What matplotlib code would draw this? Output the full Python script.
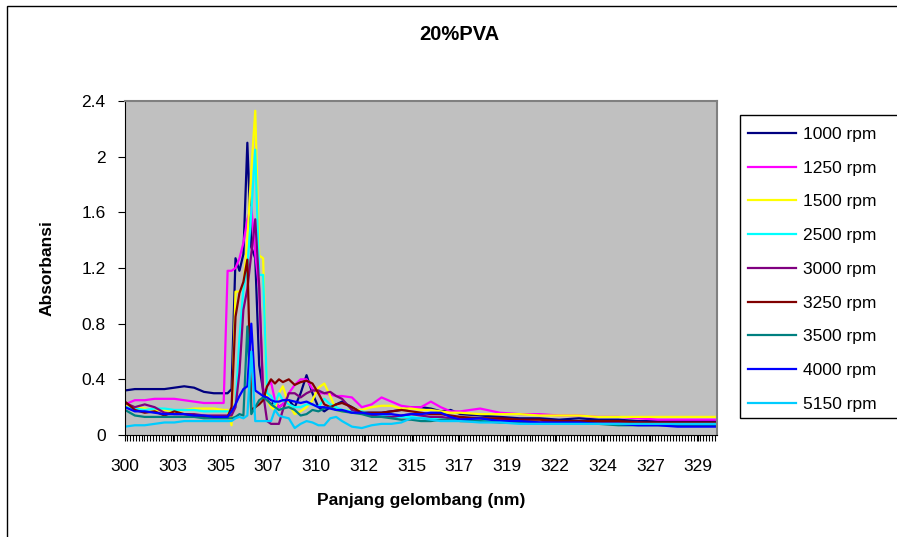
import matplotlib
matplotlib.use("Agg")
import matplotlib.pyplot as plt
from matplotlib.patches import Rectangle
from matplotlib.ticker import MultipleLocator

plt.rcParams['font.family'] = ['Liberation Sans', 'DejaVu Sans']

# Wavelength (nm) of the sampled points
wavelength = [300.0, 300.5, 301.0, 301.5, 302.0, 302.5, 303.0, 303.5, 304.0, 304.5, 305.0,
              305.2, 305.4, 305.6, 305.8, 306.0, 306.2, 306.4, 306.6, 306.8, 307.0,
              307.2, 307.4, 307.6, 307.8, 308.0, 308.3, 308.6, 308.9, 309.2, 309.5,
              309.8, 310.1, 310.4, 310.7, 311.0, 311.5, 312.0,
              312.5, 313.0, 313.5, 314.0, 314.5, 315.0, 315.5, 316.0, 316.5, 317.0,
              318.0, 319.0, 320.0, 321.0, 322.0, 323.0, 324.0, 325.0, 326.0, 327.0,
              328.0, 329.0, 330.0]

rpm_1000 = [0.32, 0.33, 0.33, 0.33, 0.33, 0.34, 0.35, 0.34, 0.31, 0.30, 0.30,
            0.30, 0.33, 1.27, 1.18, 1.30, 2.10, 1.35, 1.27, 0.50, 0.32,
            0.25, 0.22, 0.24, 0.20, 0.22, 0.25, 0.20, 0.30, 0.43, 0.30,
            0.20, 0.17, 0.20, 0.22, 0.24, 0.20, 0.16,
            0.16, 0.16, 0.17, 0.18, 0.20, 0.20, 0.19, 0.17, 0.18, 0.15,
            0.14, 0.13, 0.12, 0.12, 0.11, 0.12, 0.11, 0.11, 0.10, 0.10,
            0.10, 0.10, 0.10]
rpm_1250 = [0.22, 0.25, 0.25, 0.26, 0.26, 0.26, 0.25, 0.24, 0.23, 0.23, 0.23,
            1.18, 1.18, 1.20, 1.27, 1.38, 1.55, 1.64, 1.30, 1.05, 0.30,
            0.35, 0.38, 0.25, 0.20, 0.22, 0.30, 0.36, 0.40, 0.40, 0.33,
            0.30, 0.30, 0.29, 0.28, 0.28, 0.27, 0.20,
            0.22, 0.27, 0.24, 0.21, 0.20, 0.20, 0.24, 0.20, 0.17, 0.17,
            0.19, 0.16, 0.15, 0.15, 0.14, 0.14, 0.13, 0.13, 0.12, 0.11,
            0.11, 0.11, 0.11]
rpm_1500 = [0.22, 0.20, 0.19, 0.18, 0.18, 0.17, 0.18, 0.19, 0.19, 0.19, 0.18,
            0.18, 0.07, 1.03, 1.03, 1.07, 1.40, 1.90, 2.33, 1.29, 1.27,
            0.25, 0.20, 0.18, 0.30, 0.35, 0.22, 0.15, 0.17, 0.20, 0.25,
            0.34, 0.37, 0.28, 0.18, 0.17, 0.18, 0.18,
            0.20, 0.21, 0.21, 0.19, 0.19, 0.18, 0.18, 0.17, 0.16, 0.16,
            0.15, 0.15, 0.15, 0.14, 0.14, 0.14, 0.13, 0.13, 0.13, 0.13,
            0.13, 0.13, 0.13]
rpm_2500 = [0.20, 0.19, 0.18, 0.19, 0.19, 0.18, 0.18, 0.18, 0.17, 0.17, 0.17,
            0.17, 0.17, 0.20, 0.70, 1.05, 1.20, 1.60, 2.05, 1.15, 1.15,
            0.30, 0.28, 0.22, 0.30, 0.25, 0.22, 0.20, 0.20, 0.22, 0.22,
            0.20, 0.26, 0.22, 0.20, 0.18, 0.17, 0.17,
            0.15, 0.14, 0.13, 0.13, 0.13, 0.12, 0.12, 0.11, 0.11, 0.11,
            0.10, 0.10, 0.09, 0.09, 0.09, 0.08, 0.08, 0.08, 0.08, 0.08,
            0.08, 0.08, 0.08]
rpm_3000 = [0.23, 0.20, 0.22, 0.20, 0.16, 0.15, 0.15, 0.15, 0.14, 0.14, 0.14,
            0.14, 0.14, 0.20, 0.45, 0.90, 1.05, 1.30, 1.55, 1.07, 0.30,
            0.10, 0.08, 0.08, 0.08, 0.18, 0.30, 0.30, 0.27, 0.30, 0.32,
            0.32, 0.30, 0.31, 0.28, 0.26, 0.18, 0.16,
            0.14, 0.13, 0.13, 0.14, 0.15, 0.14, 0.13, 0.13, 0.12, 0.12,
            0.12, 0.11, 0.10, 0.09, 0.10, 0.09, 0.09, 0.09, 0.09, 0.08,
            0.08, 0.08, 0.08]
rpm_3250 = [0.24, 0.18, 0.16, 0.17, 0.14, 0.17, 0.15, 0.14, 0.13, 0.13, 0.13,
            0.13, 0.20, 0.85, 1.02, 1.10, 1.26, 0.18, 0.20, 0.22, 0.25,
            0.35, 0.40, 0.37, 0.40, 0.38, 0.40, 0.36, 0.38, 0.39, 0.37,
            0.30, 0.22, 0.20, 0.22, 0.23, 0.20, 0.16,
            0.16, 0.16, 0.17, 0.18, 0.17, 0.16, 0.15, 0.15, 0.14, 0.13,
            0.12, 0.12, 0.11, 0.11, 0.10, 0.10, 0.10, 0.10, 0.09, 0.09,
            0.09, 0.09, 0.09]
rpm_3500 = [0.18, 0.14, 0.13, 0.13, 0.13, 0.13, 0.13, 0.13, 0.12, 0.12, 0.12,
            0.12, 0.12, 0.13, 0.15, 0.14, 0.78, 0.15, 0.20, 0.25, 0.27,
            0.25, 0.22, 0.20, 0.18, 0.19, 0.20, 0.18, 0.14, 0.15, 0.18,
            0.17, 0.19, 0.20, 0.18, 0.17, 0.16, 0.15,
            0.13, 0.13, 0.12, 0.11, 0.11, 0.10, 0.10, 0.11, 0.11, 0.10,
            0.10, 0.09, 0.09, 0.08, 0.08, 0.08, 0.08, 0.07, 0.07, 0.07,
            0.07, 0.07, 0.07]
rpm_4000 = [0.20, 0.17, 0.17, 0.16, 0.15, 0.15, 0.15, 0.14, 0.14, 0.13, 0.13,
            0.13, 0.17, 0.22, 0.28, 0.33, 0.35, 0.80, 0.32, 0.30, 0.28,
            0.27, 0.25, 0.24, 0.24, 0.25, 0.25, 0.24, 0.23, 0.24, 0.22,
            0.20, 0.20, 0.19, 0.18, 0.18, 0.16, 0.16,
            0.15, 0.15, 0.15, 0.14, 0.15, 0.15, 0.16, 0.16, 0.13, 0.11,
            0.12, 0.10, 0.10, 0.09, 0.09, 0.09, 0.08, 0.08, 0.07, 0.07,
            0.06, 0.06, 0.06]
rpm_5150 = [0.06, 0.07, 0.07, 0.08, 0.09, 0.09, 0.10, 0.10, 0.10, 0.10, 0.10,
            0.10, 0.10, 0.12, 0.13, 0.12, 0.14, 0.60, 0.10, 0.10, 0.10,
            0.10, 0.10, 0.18, 0.14, 0.13, 0.12, 0.05, 0.08, 0.10, 0.09,
            0.07, 0.07, 0.12, 0.13, 0.10, 0.06, 0.05,
            0.07, 0.08, 0.08, 0.09, 0.12, 0.12, 0.11, 0.10, 0.10, 0.10,
            0.09, 0.09, 0.08, 0.08, 0.08, 0.08, 0.08, 0.08, 0.08, 0.08,
            0.08, 0.08, 0.08]

series = [
    ("1000 rpm", rpm_1000, "#000080"),
    ("1250 rpm", rpm_1250, "#FF00FF"),
    ("1500 rpm", rpm_1500, "#FFFF00"),
    ("2500 rpm", rpm_2500, "#00FFFF"),
    ("3000 rpm", rpm_3000, "#800080"),
    ("3250 rpm", rpm_3250, "#800000"),
    ("3500 rpm", rpm_3500, "#008080"),
    ("4000 rpm", rpm_4000, "#0000FF"),
    ("5150 rpm", rpm_5150, "#00CCFF"),
]

tick_labels = ['300', '303', '305', '307', '310', '312', '315',
               '317', '319', '322', '324', '327', '329']
y_ticks = [0, 0.4, 0.8, 1.2, 1.6, 2.0, 2.4]
y_tick_labels = ['0', '0.4', '0.8', '1.2', '1.6', '2', '2.4']

W, H = 897, 537
fig = plt.figure(figsize=(W / 100, H / 100), dpi=100)
ax = fig.add_axes([125 / W, 1 - 435 / H, 592 / W, 334 / H])
ax.set_facecolor('#C0C0C0')

for name, vals, col in series:
    ax.plot(wavelength, vals, color=col, lw=1.6, label=name)

ax.set_xlim(300, 330)
ax.set_ylim(0, 2.4)

step = 2.42
ax.set_xticks([300 + i * step for i in range(len(tick_labels))])
ax.set_xticklabels(tick_labels, fontsize=12.5)
ax.xaxis.set_minor_locator(MultipleLocator(step / 16))
ax.tick_params(axis='x', which='both', direction='out', length=4, width=0.8, pad=13)
ax.set_yticks(y_ticks)
ax.set_yticklabels(y_tick_labels, fontsize=12.5)
ax.tick_params(axis='y', direction='out', length=5, width=0.8, pad=9)

for side in ['top', 'right']:
    ax.spines[side].set_color('#808080')
    ax.spines[side].set_linewidth(1.5)
ax.spines['left'].set_color('black')
ax.spines['bottom'].set_color('black')

fig.text(459 / W, 1 - 35 / H, "20%PVA", ha='center', va='center',
         fontsize=14.5, fontweight='bold')
fig.text(421 / W, 1 - 500 / H, "Panjang gelombang (nm)", ha='center', va='center',
         fontsize=12.5, fontweight='bold')
fig.text(47 / W, 1 - 268 / H, "Absorbansi", ha='center', va='center',
         rotation=90, fontsize=12.5, fontweight='bold')

leg = fig.legend(loc='upper left', bbox_to_anchor=(740 / W, 1 - 119 / H),
                 fontsize=12.5, frameon=False, borderpad=0.45,
                 labelspacing=1.07, handlelength=2.8, handletextpad=0.4,
                 borderaxespad=0)
for line in leg.get_lines():
    line.set_linewidth(1.6)

# legend box runs past the right edge of the picture
fig.patches.append(Rectangle((740 / W, 1 - 418 / H), 200 / W, 303 / H,
                             transform=fig.transFigure, facecolor='white',
                             edgecolor='black', lw=1, zorder=0))

# chart area border
fig.patches.append(Rectangle((7 / W, -0.1), 2, 1.1 - 6 / H,
                             transform=fig.transFigure, fill=False,
                             edgecolor='black', lw=1))

fig.savefig("out.png", dpi=100)
